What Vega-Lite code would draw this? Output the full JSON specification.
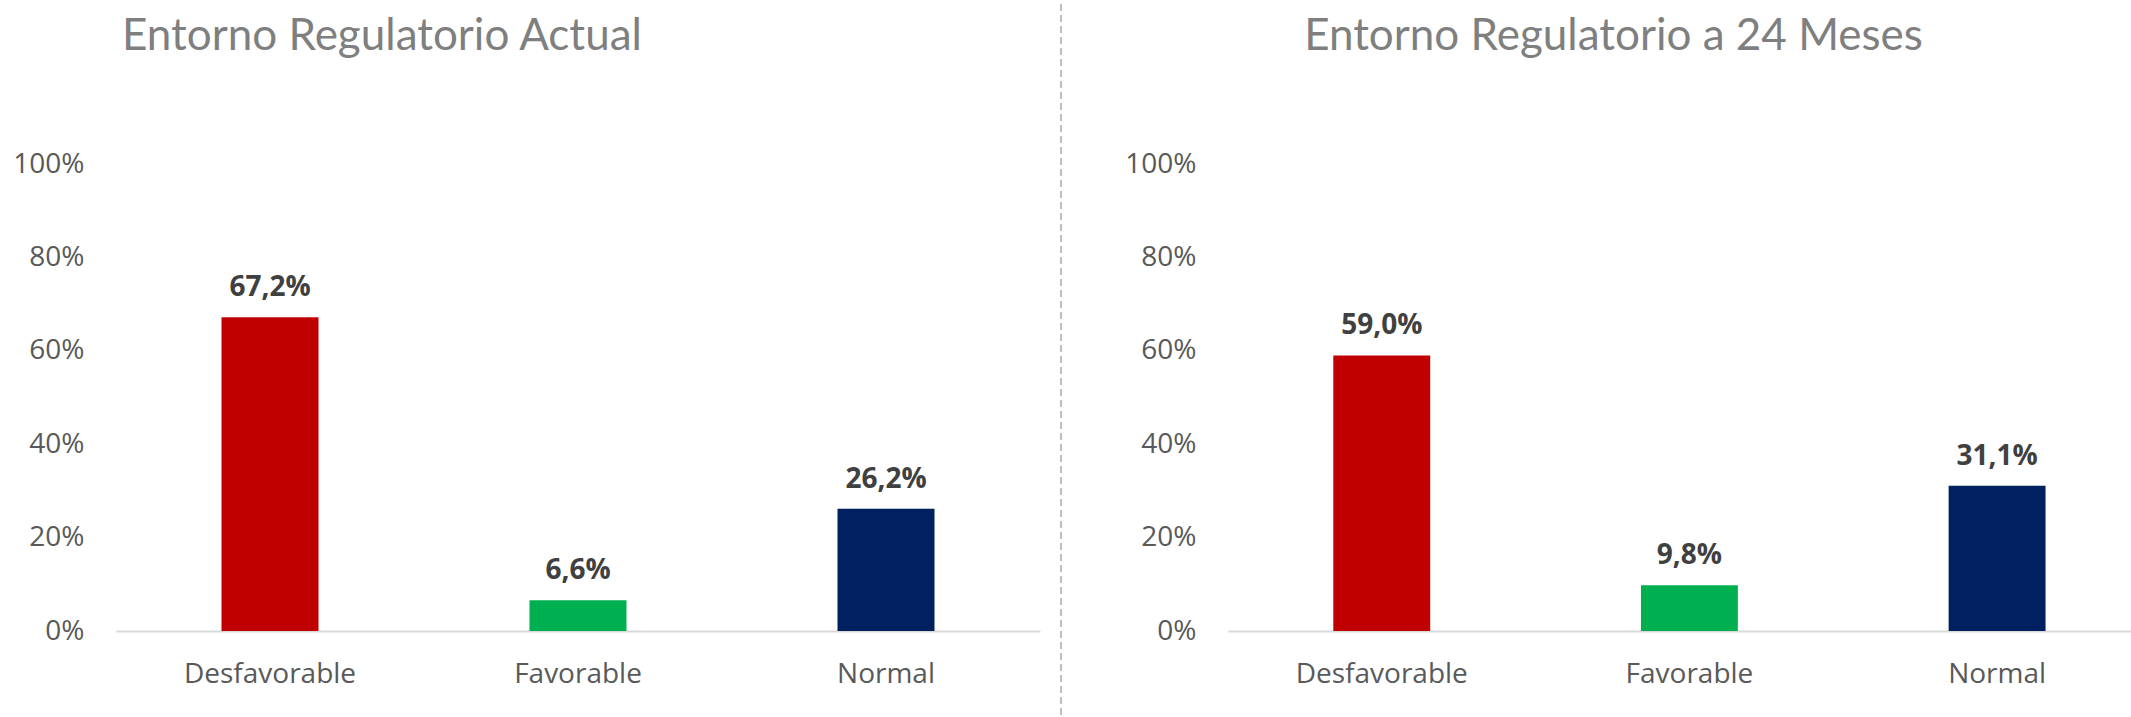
{
  "$schema": "https://vega.github.io/schema/vega-lite/v6.json",
  "padding": {"left": 12, "top": 0, "right": 0, "bottom": 0},
  "background": "white",
  "datasets": {
    "barras": [
      {"panel": "Actual", "categoria": "Desfavorable", "valor": 0.672},
      {"panel": "Actual", "categoria": "Favorable", "valor": 0.066},
      {"panel": "Actual", "categoria": "Normal", "valor": 0.262},
      {"panel": "24 Meses", "categoria": "Desfavorable", "valor": 0.590},
      {"panel": "24 Meses", "categoria": "Favorable", "valor": 0.098},
      {"panel": "24 Meses", "categoria": "Normal", "valor": 0.311}
    ],
    "divisor": [{"desde": -0.18, "hasta": 1.347}]
  },
  "data": {"name": "barras"},
  "spacing": 62,
  "hconcat": [
    {
      "spacing": 20,
      "hconcat": [
        {
          "title": {"text": "Entorno Regulatorio Actual", "anchor": "middle", "frame": "group", "dx": -196, "offset": 91, "fontSize": 44, "font": "Lato", "fontWeight": "normal", "color": "#7f7f7f"},
          "width": 924,
          "height": 467,
          "transform": [{"filter": "datum.panel === 'Actual'"}],
          "encoding": {
            "x": {"field": "categoria", "type": "nominal", "sort": null,
              "scale": {"paddingInner": 0.685, "paddingOuter": 0.3425},
              "axis": {"title": null, "labelAngle": 0, "ticks": false, "tickSize": 0, "labelPadding": 29, "domainColor": "#d9d9d9", "domainWidth": 2, "labelFont": "Open Sans", "labelFontSize": 28, "labelColor": "#595959", "grid": false}},
            "y": {"field": "valor", "type": "quantitative",
              "scale": {"domain": [0, 1]},
              "axis": {"title": null, "values": [0, 0.2, 0.4, 0.6, 0.8, 1], "format": ".0%", "domain": false, "ticks": false, "tickSize": 0, "grid": false, "labelPadding": 32, "labelFont": "Open Sans", "labelFontSize": 28, "labelColor": "#595959"}}
          },
          "layer": [
            {"mark": {"type": "bar"},
             "encoding": {"color": {"field": "categoria", "type": "nominal", "legend": null,
               "scale": {"domain": ["Desfavorable", "Favorable", "Normal"], "range": ["#C00000", "#00B050", "#002060"]}}}},
            {"mark": {"type": "text", "baseline": "alphabetic", "dy": -21, "font": "Open Sans", "fontSize": 28, "fontWeight": "bold", "color": "#404040"},
             "encoding": {"text": {"field": "valor", "type": "quantitative", "format": ".1%"}}}
          ]
        },
        {
          "data": {"name": "divisor"},
          "width": 2,
          "height": 467,
          "mark": {"type": "rule", "strokeDash": [7, 4], "color": "#bfbfbf", "strokeWidth": 2},
          "encoding": {
            "y": {"field": "desde", "type": "quantitative", "scale": {"domain": [0, 1]}, "axis": null},
            "y2": {"field": "hasta"}
          }
        }
      ]
    },
    {
      "title": {"text": "Entorno Regulatorio a 24 Meses", "anchor": "middle", "frame": "group", "dx": -66, "offset": 91, "fontSize": 44, "font": "Lato", "fontWeight": "normal", "color": "#7f7f7f"},
      "width": 903,
      "height": 467,
      "transform": [{"filter": "datum.panel === '24 Meses'"}],
      "encoding": {
        "x": {"field": "categoria", "type": "nominal", "sort": null,
          "scale": {"paddingInner": 0.685, "paddingOuter": 0.31, "align": 0.552},
          "axis": {"title": null, "labelAngle": 0, "ticks": false, "tickSize": 0, "labelPadding": 29, "domainColor": "#d9d9d9", "domainWidth": 2, "labelFont": "Open Sans", "labelFontSize": 28, "labelColor": "#595959", "grid": false}},
        "y": {"field": "valor", "type": "quantitative",
          "scale": {"domain": [0, 1]},
          "axis": {"title": null, "values": [0, 0.2, 0.4, 0.6, 0.8, 1], "format": ".0%", "domain": false, "ticks": false, "tickSize": 0, "grid": false, "labelPadding": 32, "labelFont": "Open Sans", "labelFontSize": 28, "labelColor": "#595959"}}
      },
      "layer": [
        {"mark": {"type": "bar"},
         "encoding": {"color": {"field": "categoria", "type": "nominal", "legend": null,
           "scale": {"domain": ["Desfavorable", "Favorable", "Normal"], "range": ["#C00000", "#00B050", "#002060"]}}}},
        {"mark": {"type": "text", "baseline": "alphabetic", "dy": -21, "font": "Open Sans", "fontSize": 28, "fontWeight": "bold", "color": "#404040"},
         "encoding": {"text": {"field": "valor", "type": "quantitative", "format": ".1%"}}}
      ]
    }
  ],
  "resolve": {"scale": {"color": "independent"}},
  "config": {
    "view": {"stroke": null},
    "locale": {"number": {"decimal": ",", "thousands": ".", "grouping": [3], "currency": ["", " €"]}}
  }
}
